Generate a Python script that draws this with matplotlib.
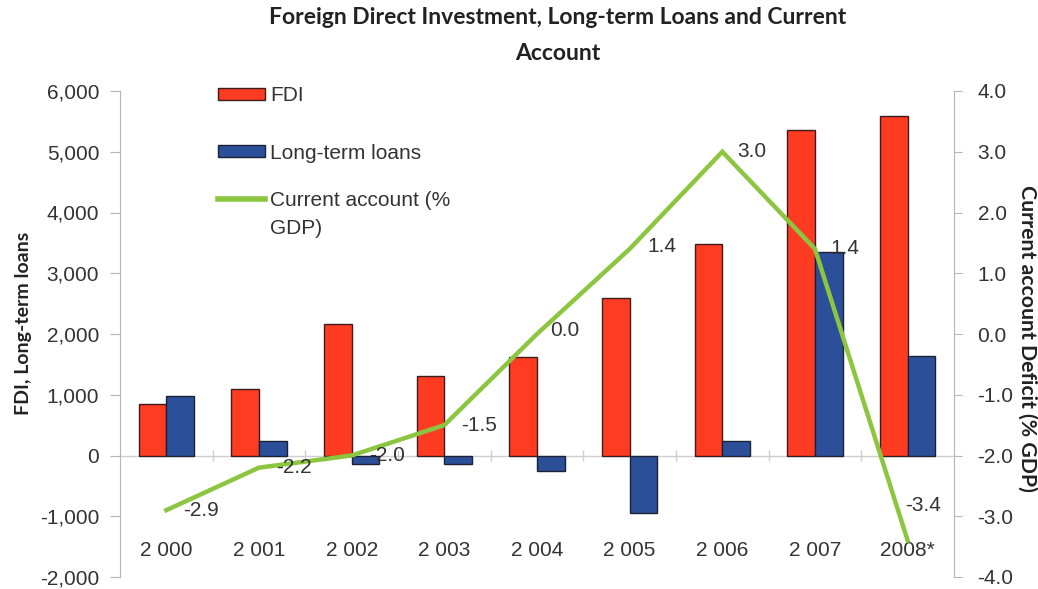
import matplotlib
matplotlib.use("Agg")
import matplotlib.pyplot as plt
import matplotlib.transforms as mtransforms
from matplotlib.patches import Patch
from matplotlib.lines import Line2D
import numpy as np

# ---- data ----
categories = ["2 000", "2 001", "2 002", "2 003", "2 004", "2 005", "2 006", "2 007", "2008*"]
fdi = [840, 1100, 2160, 1310, 1625, 2595, 3485, 5350, 5585]
loans = [985, 240, -145, -140, -255, -945, 240, 3350, 1630]
current_account = [-2.9, -2.2, -2.0, -1.5, 0.0, 1.4, 3.0, 1.4, -3.4]
ca_labels = ["-2.9", "-2.2", "-2.0", "-1.5", "0.0", "1.4", "3.0", "1.4", "-3.4"]
left_ticks = [-2000, -1000, 0, 1000, 2000, 3000, 4000, 5000, 6000]
right_ticks = [-4.0, -3.0, -2.0, -1.0, 0.0, 1.0, 2.0, 3.0, 4.0]

# label offsets in pixels (style)
label_offsets = [(17, 0), (17, 0), (17, 0), (17, 0), (13, 4), (18, 2), (15, 0), (15, 0), (-3, 35)]

RED = "#ff3b22"
BLUE = "#2b4f98"
GREEN = "#8cc540"
GRAY = "#b5b5b5"
TXT = "#333333"
NUMFONT = "Liberation Sans"
HEADFONT = "Lato"

fig = plt.figure(figsize=(10.38, 5.89), dpi=100)
ax = fig.add_axes([120 / 1038, 1 - 577 / 589, (954 - 120) / 1038, (577 - 91) / 589])
ax2 = ax.twinx()

x = np.arange(len(categories))
w = 0.30
ax.bar(x - w / 2, fdi, width=w, color=RED, edgecolor="#3a1c1c", linewidth=1.0, zorder=3)
ax.bar(x + w / 2, loans, width=w, color=BLUE, edgecolor="#1c2233", linewidth=1.0, zorder=3)

ax.set_xlim(-0.5, len(categories) - 0.5)
ax.set_ylim(-2000, 6000)
ax2.set_ylim(-4.0, 4.0)

# zero line and category boundary marks
ax.axhline(0, color="#cfcfcf", linewidth=1.0, zorder=1)
ax.vlines(np.arange(len(categories) - 1) + 0.5, -90, 90, color="#cfcfcf", linewidth=1.0, zorder=1)

ax2.plot(x, current_account, color=GREEN, linewidth=3.2, solid_joinstyle="miter", zorder=4)
for xi, yi, lab, off in zip(x, current_account, ca_labels, label_offsets):
    ax2.annotate(lab, (xi, yi), xytext=off, textcoords="offset pixels",
                 ha="left", va="center", fontsize=15, color=TXT, family=NUMFONT, zorder=5)

# category labels inside the plot
trans = mtransforms.blended_transform_factory(ax.transData, ax.transAxes)
for xi, lab in zip(x, categories):
    ax.text(xi, 0.054, lab, transform=trans, ha="center", va="center",
            fontsize=15, color=TXT, family=NUMFONT)

# axes styling
for a in (ax, ax2):
    for s in ("top", "bottom"):
        a.spines[s].set_visible(False)
ax.spines["right"].set_visible(False)
ax2.spines["left"].set_visible(False)
ax.spines["left"].set_color(GRAY)
ax2.spines["right"].set_color(GRAY)
ax.set_xticks([])

ax.set_yticks(left_ticks)
ax.set_yticklabels([f"{v:,}" for v in left_ticks])
ax.tick_params(axis="y", direction="out", length=7, color=GRAY, pad=8, labelsize=15, labelcolor=TXT)
ax2.set_yticks(right_ticks)
ax2.set_yticklabels([f"{v:.1f}" for v in right_ticks])
ax2.tick_params(axis="y", direction="out", length=6, color=GRAY, pad=11, labelsize=15, labelcolor=TXT)
for lab in ax.get_yticklabels() + ax2.get_yticklabels():
    lab.set_family(NUMFONT)

# axis titles
fig.text(24 / 1038, 1 - 323 / 589, "FDI, Long-term loans", rotation=90, ha="center", va="center",
         fontsize=14, fontweight="bold", family=HEADFONT, color="#222222")
fig.text(1027 / 1038, 1 - 338 / 589, "Current account Deficit (% GDP)", rotation=270, ha="center",
         va="center", fontsize=15.3, fontweight="bold", family=HEADFONT, color="#222222")

# title
fig.text(558 / 1038, 1 - 18 / 589, "Foreign Direct Investment, Long-term Loans and Current",
         ha="center", va="center", fontsize=16.5, fontweight="bold", family=HEADFONT, color="#222222")
fig.text(558 / 1038, 1 - 53 / 589, "Account",
         ha="center", va="center", fontsize=16.5, fontweight="bold", family=HEADFONT, color="#222222")

# legend (bars)
leg_kw = dict(loc="upper left", bbox_transform=fig.transFigure, frameon=False, borderpad=0,
              borderaxespad=0, handlelength=2.25, handleheight=0.5, handletextpad=0.25,
              prop={"family": NUMFONT, "size": 15})
bar_handles = [Patch(facecolor=RED, edgecolor="#3a1c1c", linewidth=1.0),
               Patch(facecolor=BLUE, edgecolor="#1c2233", linewidth=1.0)]
leg1 = ax2.legend(bar_handles, ["FDI", "Long-term loans"], bbox_to_anchor=(218 / 1038, 1 - 86 / 589),
                  labelspacing=1.85, **leg_kw)
for t in leg1.get_texts():
    t.set_color(TXT)
ax2.add_artist(leg1)
# legend (line)
leg2 = ax2.legend([Line2D([0], [0], color=GREEN, linewidth=4)], ["Current account (%"],
                  bbox_to_anchor=(218 / 1038, 1 - 191 / 589), **leg_kw)
for t in leg2.get_texts():
    t.set_color(TXT)
fig.text(270 / 1038, 1 - 228 / 589, "GDP)", ha="left", va="center", fontsize=15,
         family=NUMFONT, color=TXT)

fig.savefig("out.png", dpi=100)
